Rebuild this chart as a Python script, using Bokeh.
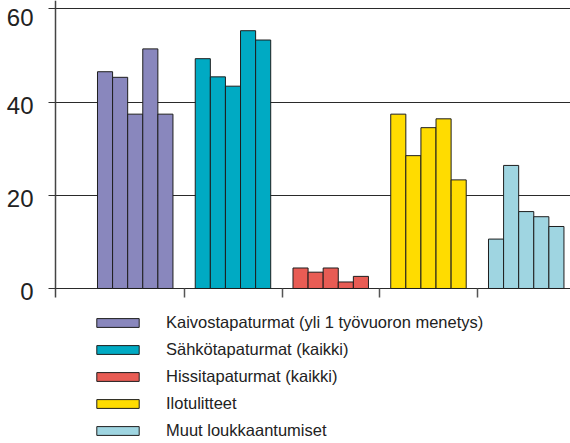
from bokeh.plotting import figure
from bokeh.models import Range1d, FixedTicker, Legend, LegendItem
from bokeh.core.properties import value
from bokeh.embed import file_html
from bokeh.resources import INLINE

# ---- data ----
categories = [
    "Kaivostapaturmat (yli 1 työvuoron menetys)",
    "Sähkötapaturmat (kaikki)",
    "Hissitapaturmat (kaikki)",
    "Ilotulitteet",
    "Muut loukkaantumiset",
]
kaivos = [46.5, 45.3, 37.4, 51.4, 37.4]
sahko = [49.3, 45.4, 43.4, 55.3, 53.3]
hissi = [4.4, 3.5, 4.4, 1.4, 2.6]
ilotulitteet = [37.4, 28.5, 34.5, 36.4, 23.3]
muut = [10.6, 26.4, 16.5, 15.4, 13.3]
series = [kaivos, sahko, hissi, ilotulitteet, muut]
y_ticks = [0, 20, 40, 60]
y_tick_labels = ["0", "20", "40", "60"]

# ---- style / layout ----
colors = ["#8987bd", "#00aac3", "#e85c54", "#ffdc00", "#9fd5e1"]
FONT = "Liberation Sans"
x_start, x_end = -0.8798, 4.9514
axis_x = -0.3171
y_start, y_end = -33.25, 61.78
group_offset = 0.1125
group_width = 0.772
tick_len = 1.93  # data units below zero

p = figure(width=570, height=443, output_backend="svg", toolbar_location=None,
           tools="", x_range=Range1d(x_start, x_end), y_range=Range1d(y_start, y_end),
           min_border_left=0, min_border_right=0, min_border_top=0,
           min_border_bottom=0, outline_line_color=None)

# horizontal grid lines from the axis to the right edge
p.ygrid.ticker = FixedTicker(ticks=y_ticks)
p.ygrid.cross_bounds = (axis_x, x_end)
p.ygrid.grid_line_color = "#2a2a2a"
p.ygrid.grid_line_width = 1
p.xgrid.visible = False

# y axis placed at axis_x
ya = p.yaxis[0]
ya.fixed_location = axis_x
ya.ticker = FixedTicker(ticks=y_ticks)
ya.bounds = (-tick_len, y_end)
ya.major_tick_out = 7
ya.major_tick_in = 0
ya.minor_tick_line_color = None
ya.axis_line_color = "#444444"
ya.axis_line_width = 1.5
ya.major_tick_line_color = "#333333"
ya.major_tick_line_width = 1
ya.major_label_overrides = {t: "" for t in y_ticks}

# x axis on the zero line: ticks at category boundaries
n = len(categories)
xa = p.xaxis[0]
xa.fixed_location = 0
xa.ticker = FixedTicker(ticks=list(range(1, n)))
xa.axis_line_color = None
xa.major_tick_out = 9
xa.major_tick_in = 0
xa.minor_tick_line_color = None
xa.major_tick_line_color = "#555555"
xa.major_tick_line_width = 1.5
xa.major_label_overrides = {t: "" for t in range(1, n)}

items = []
for i, (cat, vals, col) in enumerate(zip(categories, series, colors)):
    bw = group_width / len(vals)
    xs = [i + group_offset + (k + 0.5) * bw for k in range(len(vals))]
    r = p.vbar(x=xs, top=vals, bottom=0, width=bw, fill_color=col,
               line_color="#1e1e1e", line_width=1)
    items.append(LegendItem(label=cat, renderers=[r]))

# y tick labels
p.text(x=[axis_x] * len(y_ticks), y=y_ticks, text=y_tick_labels,
       x_offset=-22, y_offset=[3.5, 3.5, 3.5, 8.7],
       text_align="right", text_baseline="middle",
       text_font=value(FONT), text_font_size="24px", text_color="#222222")

legend = Legend(items=items, location=(91, 1.5), orientation="vertical",
                glyph_width=53, glyph_height=11, label_standoff=22,
                label_text_font=FONT, label_text_font_size="16.5px",
                label_text_color="#222222", label_height=22, spacing=5,
                padding=0, margin=0, border_line_color=None,
                background_fill_alpha=0)
p.add_layout(legend)

open("out.html", "w").write(file_html(p, INLINE))
